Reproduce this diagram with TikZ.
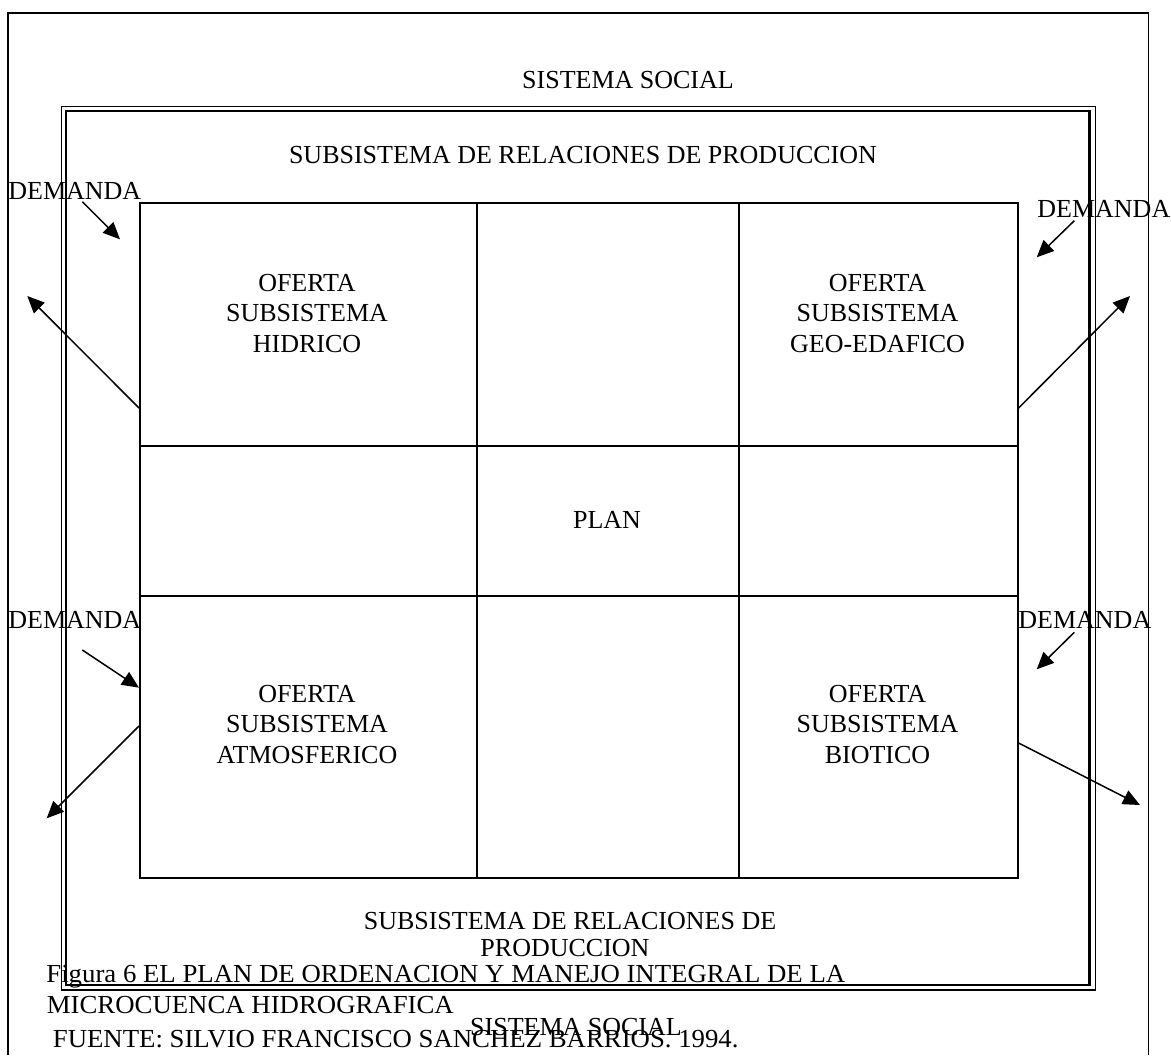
\documentclass[tikz,border=0pt]{standalone}
\usepackage{fontspec}
\setmainfont{Liberation Serif}
\newfontfamily\capfont[FakeStretch=1.03]{Liberation Serif}
\usetikzlibrary{arrows.meta,calc}
\begin{document}
\begin{tikzpicture}[x=0.5pt,y=-0.5pt,
  txt/.style={font=\fontsize{13}{15}\selectfont, inner sep=0pt, anchor=base},
  captxt/.style={font=\capfont\fontsize{13}{15}\selectfont, inner sep=0pt, anchor=base west},
  gridcell/.style={draw, line width=0.8pt, inner sep=0pt, anchor=north west},
  outerframe/.style={line width=0.75pt},
  thinrule/.style={line width=0.7pt},
  thickrule/.style={line width=1.1pt},
  arr/.style={line width=0.75pt, -{Triangle[length=8.5pt,width=7.5pt]}}]

% page area
\useasboundingbox (0,0) rectangle (1171,1055);

% outermost frame, open at the bottom edge
\draw[outerframe] (8,1055) -- (8,13) -- (1148.5,13) -- (1148.5,1055);

% double-ruled frame of the production subsystem
\draw[thinrule] (61.5,106.5) rectangle (1095.5,990);
\draw[thickrule] (66,111) rectangle (1089.5,985);

% 3 x 3 grid of cells
\node[gridcell, minimum width=168.5pt, minimum height=121.5pt] (c11) at (139,202) {};
\node[gridcell, minimum width=131pt,   minimum height=121.5pt] (c12) at (476,202) {};
\node[gridcell, minimum width=139.5pt, minimum height=121.5pt] (c13) at (738,202) {};
\node[gridcell, minimum width=168.5pt, minimum height=75pt]    (c21) at (139,445) {};
\node[gridcell, minimum width=131pt,   minimum height=75pt]    (c22) at (476,445) {};
\node[gridcell, minimum width=139.5pt, minimum height=75pt]    (c23) at (738,445) {};
\node[gridcell, minimum width=168.5pt, minimum height=141pt]   (c31) at (139,595) {};
\node[gridcell, minimum width=131pt,   minimum height=141pt]   (c32) at (476,595) {};
\node[gridcell, minimum width=139.5pt, minimum height=141pt]   (c33) at (738,595) {};

% titles
\node[txt] (socialtop) at (628,88) {SISTEMA SOCIAL};
\node[txt] (reltop) at (583,163) {SUBSISTEMA DE RELACIONES DE PRODUCCION};

% cell texts
\node[txt] (h1) at (307,291) {OFERTA};
\node[txt] (h2) at (307,321.5) {SUBSISTEMA};
\node[txt] (h3) at (307,352) {HIDRICO};
\node[txt] (g1) at (877.5,291) {OFERTA};
\node[txt] (g2) at (877.5,321.5) {SUBSISTEMA};
\node[txt] (g3) at (877.5,352) {GEO-EDAFICO};
\node[txt] (plan) at (607,528) {PLAN};
\node[txt] (a1) at (307,702) {OFERTA};
\node[txt] (a2) at (307,732.5) {SUBSISTEMA};
\node[txt] (a3) at (307,763) {ATMOSFERICO};
\node[txt] (b1) at (877.5,702) {OFERTA};
\node[txt] (b2) at (877.5,732.5) {SUBSISTEMA};
\node[txt] (b3) at (877.5,763) {BIOTICO};

% bottom titles
\node[txt] (relbot1) at (570,929) {SUBSISTEMA DE RELACIONES DE};
\node[txt] (relbot2) at (565,956) {PRODUCCION};

% demand labels
\node[txt, anchor=base west] (dtl) at (8,199) {DEMANDA};
\node[txt, anchor=base west] (dtr) at (1037,217) {DEMANDA};
\node[txt, anchor=base west] (dbl) at (8,628) {DEMANDA};
\node[txt, anchor=base west] (dbr) at (1018,628) {DEMANDA};

% arrow ends
\coordinate (dtlA) at (82.3,201.7);
\coordinate (dtlB) at (120,239.3);
\coordinate (dtrA) at (1074.3,220.7);
\coordinate (dtrB) at (1036.7,257.3);
\coordinate (dblA) at (82.3,650);
\coordinate (dblB) at (c31.west |- 0,687.7);
\coordinate (dbrA) at (1074.3,632.3);
\coordinate (dbrB) at (1036.7,669.3);

\coordinate (otlA) at (c11.west |- 0,408);
\coordinate (otlB) at (27.3,296);
\coordinate (otrA) at (c13.east |- 0,408);
\coordinate (otrB) at (1130,296);
\coordinate (oblA) at (c31.west |- 0,726);
\coordinate (oblB) at (46.7,818.3);
\coordinate (obrA) at (c33.east |- 0,743);
\coordinate (obrB) at (1140,805);

% demand arrows (inwards)
\draw[arr] (dtlA) -- (dtlB);
\draw[arr] (dtrA) -- (dtrB);
\draw[arr] (dblA) -- (dblB);
\draw[arr] (dbrA) -- (dbrB);

% supply arrows (outwards)
\draw[arr] (otlA) -- (otlB);
\draw[arr] (otrA) -- (otrB);
\draw[arr] (oblA) -- (oblB);
\draw[arr] (obrA) -- (obrB);

% caption and source
\node[captxt] (cap1) at (46,982) {Figura 6 EL PLAN DE ORDENACION Y MANEJO INTEGRAL DE LA};
\node[captxt] (cap2) at (46.5,1013) {MICROCUENCA HIDROGRAFICA};
\node[captxt] (cap3) at (52.5,1047) {FUENTE: SILVIO FRANCISCO SANCHEZ BARRIOS. 1994.};
\node[txt] (socialbot) at (576,1035) {SISTEMA SOCIAL};
\end{tikzpicture}
\end{document}
